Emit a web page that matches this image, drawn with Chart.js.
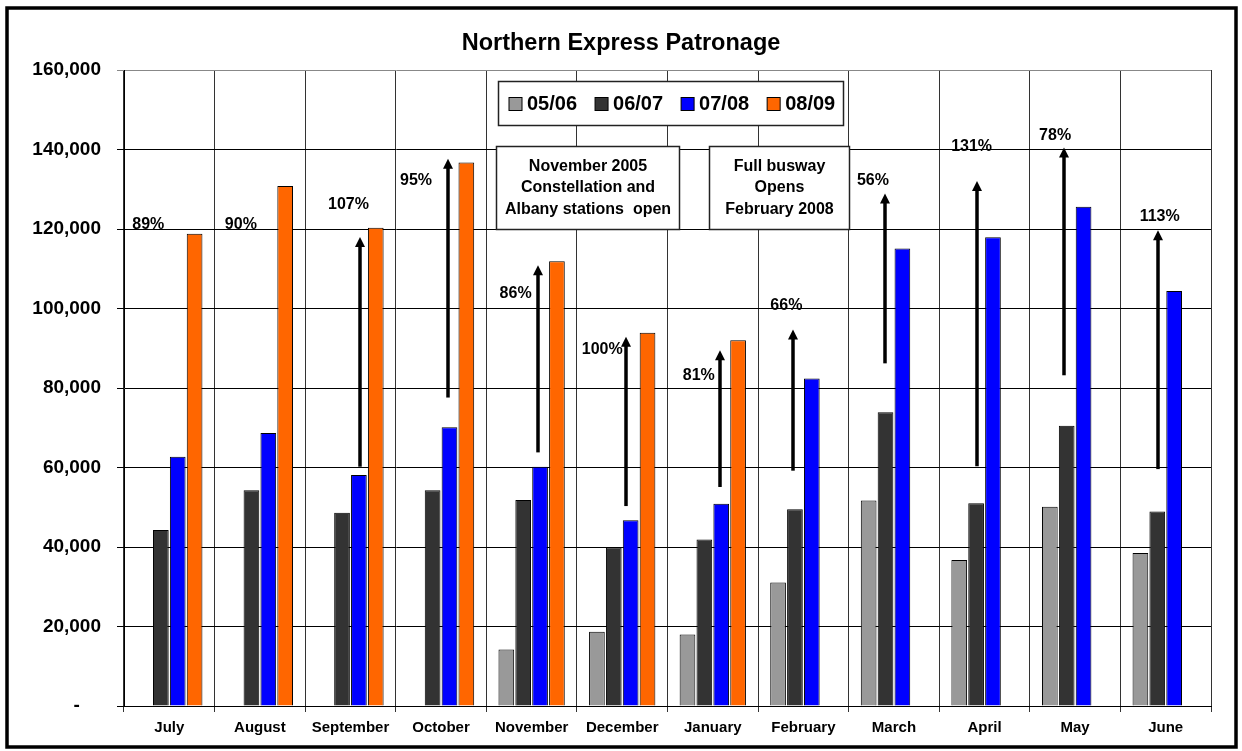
<!DOCTYPE html>
<html><head><meta charset="utf-8">
<script src="https://cdn.jsdelivr.net/npm/chart.js@4.4.0/dist/chart.umd.min.js"></script>
<style>html,body{margin:0;padding:0;background:#fff;}#wrap{position:relative;width:1242px;height:751px;}</style>
</head><body><div id="wrap"><canvas id="c"></canvas></div>
<script>
// ---- data ----
const months = ['July','August','September','October','November','December','January','February','March','April','May','June'];
const seriesLabels = ['05/06','06/07','07/08','08/09'];
const s0506 = [null,null,null,null,14200,18700,18000,31100,51700,36700,50100,38500];
const s0607 = [44300,54300,48600,54300,51800,39900,41900,49500,73900,51000,70500,48900];
const s0708 = [62700,68700,58100,70100,60200,46700,50900,82400,115100,117900,125600,104400];
const s0809 = [118800,130800,120300,136700,111900,93900,92000,null,null,null,null,null];
const yTickValues = [0,20000,40000,60000,80000,100000,120000,140000,160000];
const yTickLabels = ['-','20,000','40,000','60,000','80,000','100,000','120,000','140,000','160,000'];
// growth arrows (category position, value from, value to)
const arrowAt   = [null,null,2.106,3.077,4.074,5.044,6.082,6.89,7.904,8.919,9.879,10.916];
const arrowFrom = [null,null,60200,77600,63800,50300,55100,59200,86200,60300,83200,59600];
const arrowTo   = [null,null,118000,137700,110900,92900,89500,94700,128900,132100,140500,119700];
const pctLabels = ['89%','90%','107%','95%','86%','100%','81%','66%','56%','131%','78%','113%'];
const pctLabelAt = [-0.232,0.79,1.978,2.724,3.823,4.779,5.845,6.812,7.768,8.857,9.779,10.934];
const pctLabelValue = [121000,121000,126200,132300,103800,89700,83200,100800,132300,140800,143600,123000];
const noteTexts = [['November 2005','Constellation and','Albany stations  open'],['Full busway','Opens','February 2008']];

const colors = ['#999999','#333333','#0000FF','#FF6600'];
const FONT = '"Liberation Sans", Arial, sans-serif';

// boxes in data coordinates (category position / value)
const noteBoxes = [{x0:3.606,x1:5.626,y0:140800,y1:120100},{x0:5.96,x1:7.50,y0:140800,y1:120100}];
const legendBox = {x0:3.628,x1:7.436,y0:157200,y1:146100};

const decor = {
  id:'decor',
  afterDatasetsDraw(chart){
    const ctx = chart.ctx, xs = chart.scales.x, ys = chart.scales.y;
    ctx.save();
    // arrows
    ctx.fillStyle = '#000'; ctx.strokeStyle = '#000';
    for (let i=0;i<months.length;i++){
      if (arrowAt[i]===null) continue;
      const x = Math.round(xs.getPixelForValue(arrowAt[i]));
      const yb = ys.getPixelForValue(arrowFrom[i]);
      const yt = ys.getPixelForValue(arrowTo[i]);
      ctx.lineWidth = 3.5;
      ctx.beginPath(); ctx.moveTo(x, yb); ctx.lineTo(x, yt+8); ctx.stroke();
      ctx.beginPath(); ctx.moveTo(x-5, yt+10); ctx.lineTo(x+5, yt+10); ctx.lineTo(x, yt); ctx.closePath(); ctx.fill();
    }
    // percent labels
    ctx.font = 'bold 16px '+FONT; ctx.textAlign='center'; ctx.textBaseline='middle';
    for (let i=0;i<pctLabels.length;i++){
      ctx.fillText(pctLabels[i], xs.getPixelForValue(pctLabelAt[i]), ys.getPixelForValue(pctLabelValue[i]));
    }
    // note boxes
    noteBoxes.forEach((b,k)=>{
      const l = Math.round(xs.getPixelForValue(b.x0))+0.5, r = Math.round(xs.getPixelForValue(b.x1))+0.5;
      const t = Math.round(ys.getPixelForValue(b.y0))+0.5, bt = Math.round(ys.getPixelForValue(b.y1))+0.5;
      ctx.fillStyle='#fff'; ctx.fillRect(l,t,r-l,bt-t);
      ctx.strokeStyle='#222'; ctx.lineWidth=1.5; ctx.strokeRect(l,t,r-l,bt-t);
      ctx.fillStyle='#000'; ctx.font='bold 16px '+FONT; ctx.textAlign='center'; ctx.textBaseline='middle';
      const lines = noteTexts[k], cy=(t+bt)/2, lh=21.7;
      lines.forEach((s,j)=>ctx.fillText(s,(l+r)/2, cy+(j-(lines.length-1)/2)*lh));
    });
    // legend
    {
      const b = legendBox;
      const l = Math.round(xs.getPixelForValue(b.x0))+0.5, r = Math.round(xs.getPixelForValue(b.x1))+0.5;
      const t = Math.round(ys.getPixelForValue(b.y0))+0.5, bt = Math.round(ys.getPixelForValue(b.y1))+0.5;
      ctx.fillStyle='#fff'; ctx.fillRect(l,t,r-l,bt-t);
      ctx.strokeStyle='#222'; ctx.lineWidth=1.5; ctx.strokeRect(l,t,r-l,bt-t);
      ctx.font='bold 20px '+FONT; ctx.textAlign='left'; ctx.textBaseline='middle';
      let x = l+10.5; const cy = (t+bt)/2;
      chart.data.datasets.forEach(ds=>{
        ctx.fillStyle = ds.backgroundColor; ctx.fillRect(x, Math.round(cy-6.5)+0.5, 13, 13);
        ctx.strokeStyle='#000'; ctx.lineWidth=1; ctx.strokeRect(x, Math.round(cy-6.5)+0.5, 13, 13);
        ctx.fillStyle='#000'; ctx.fillText(ds.label, x+18, cy+1);
        x += 18 + ctx.measureText(ds.label).width + 18;
      });
    }
    ctx.restore();
  },
  afterDraw(chart){
    const ctx = chart.ctx; ctx.save();
    ctx.strokeStyle='#000'; ctx.lineWidth=3.5;
    ctx.strokeRect(7, 8, 1229, 739);
    ctx.restore();
  }
};

new Chart(document.getElementById('c'), {
  type:'bar',
  data:{
    labels: months,
    datasets:[s0506,s0607,s0708,s0809].map((d,i)=>({
      label: seriesLabels[i], data: d, backgroundColor: colors[i],
      borderColor:'#000', borderWidth:1,
      categoryPercentage:0.745, barPercentage:0.93
    }))
  },
  options:{
    responsive:true, maintainAspectRatio:false, animation:false,
    layout:{padding:{left:0,right:0,top:0,bottom:10}},
    plugins:{
      legend:{display:false}, tooltip:{enabled:false},
      title:{display:true, text:'Northern Express Patronage', color:'#000',
        font:{family:FONT, size:23.5, weight:'bold', lineHeight:1.2}, padding:{top:29,bottom:12.8}}
    },
    scales:{
      x:{
        grid:{color:'#333', lineWidth:1, tickLength:6, drawTicks:true},
        border:{color:'#000', width:1},
        ticks:{color:'#000', font:{family:FONT, size:15, weight:'bold'}, padding:7, maxRotation:0, autoSkip:false},
        afterFit(s){ s.height = 35; }
      },
      y:{
        min:0, max:160000,
        afterBuildTicks(s){ s.ticks = yTickValues.map(v=>({value:v})); },
        grid:{color:(c)=> c.tick && c.tick.value===160000 ? '#888' : '#000', lineWidth:1, tickLength:7},
        border:{color:'#000', width:1},
        ticks:{color:'#000', font:{family:FONT, size:19, weight:'bold'}, padding:16,
          callback:(v)=>{ const i = yTickValues.indexOf(v); return i===0 ? '-    ' : yTickLabels[i]; }},
        afterFit(s){ s.width = 124; }
      },
      yPad:{
        position:'right', display:true, min:0, max:160000,
        grid:{display:false, drawTicks:false}, border:{display:false},
        ticks:{display:false},
        afterFit(s){ s.width = 31; }
      }
    }
  },
  plugins:[decor]
});
</script></body></html>
